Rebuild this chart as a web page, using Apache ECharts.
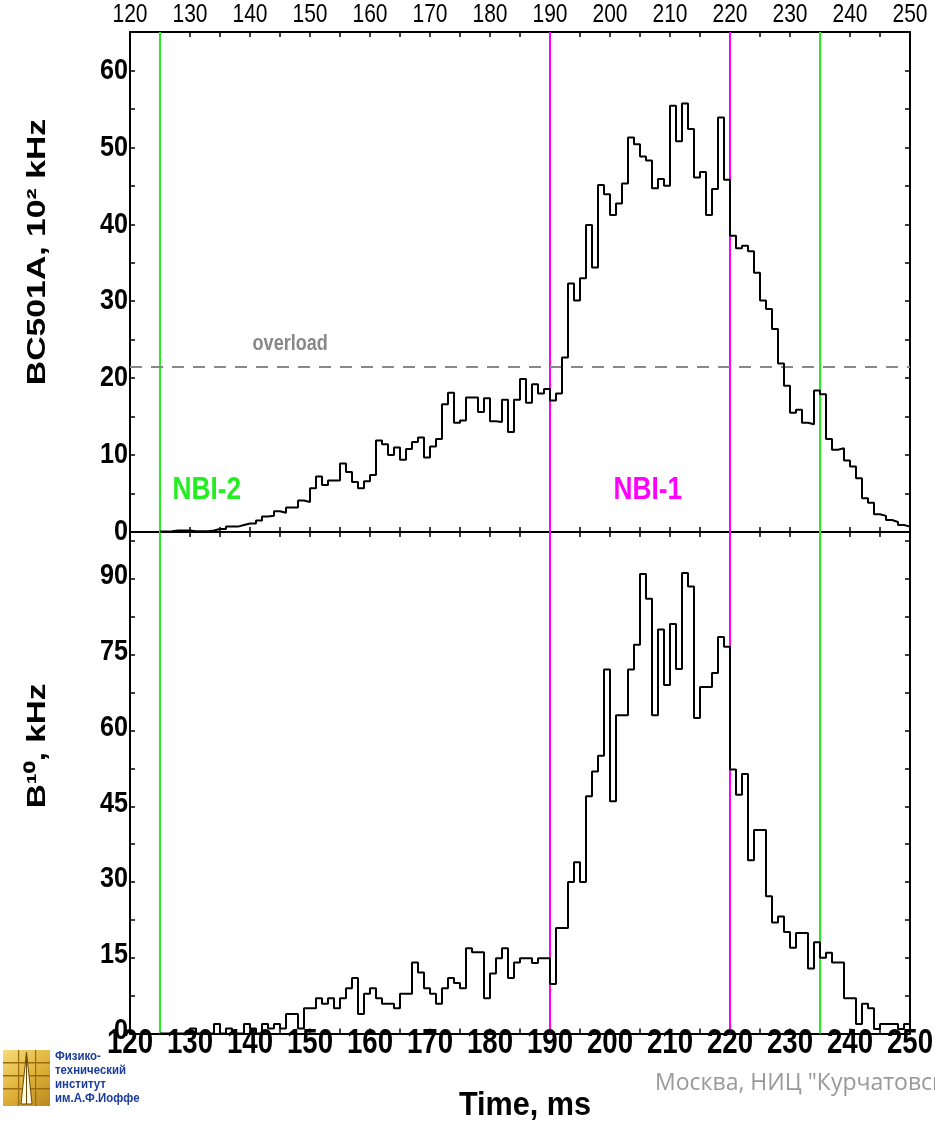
<!DOCTYPE html>
<html>
<head>
<meta charset="utf-8">
<title>BC501A / B10 count rates</title>
<script src="https://cdn.jsdelivr.net/npm/echarts@6/dist/echarts.min.js"></script>
<style>
  html, body { margin: 0; padding: 0; background: #fff; }
  #chart { width: 935px; height: 1123px; }
</style>
</head>
<body>
<div id="chart"></div>
<script>
// Histogram bins, 1 ms wide, starting at these times (ms)
const binStart = 125;
const binEnd = 250;

// BC501A neutron detector count rate, 10^2 kHz, bins 125..249 ms
const bc501a = [
  0.05, 0.1, 0.2, 0.2, 0.2, 0.1, 0.1, 0.1, 0.2, 0.4,
  0.4, 0.7, 0.7, 0.9, 1.1, 1.1, 1.5, 2.0, 2.1, 2.7,
  2.5, 3.2, 3.2, 4.1, 3.9, 5.7, 7.2, 6.1, 6.7, 6.7,
  8.9, 7.8, 6.5, 5.7, 6.6, 7.4, 11.9, 11.4, 10.0, 11.0,
  9.4, 10.8, 11.7, 12.3, 9.7, 11.1, 12.1, 16.6, 18.1, 14.2,
  14.5, 17.5, 17.5, 15.6, 17.4, 14.4, 14.3, 17.2, 13.0, 17.2,
  19.9, 16.8, 19.2, 18.0, 18.6, 17.1, 18.0, 22.7, 32.3, 30.1,
  33.0, 39.9, 34.4, 45.1, 43.9, 41.2, 42.7, 45.3, 51.3, 50.4,
  48.8, 48.3, 44.7, 45.9, 45.0, 55.4, 50.8, 55.7, 52.4, 46.1,
  46.8, 41.2, 44.6, 53.9, 45.8, 38.5, 36.9, 37.2, 36.5, 33.7,
  30.1, 29.0, 26.4, 21.9, 19.0, 15.5, 15.9, 14.2, 14.0, 18.4,
  17.9, 12.1, 10.7, 10.9, 9.3, 8.5, 7.0, 4.4, 3.8, 2.3,
  2.1, 1.55, 1.3, 0.9, 0.7
];

// B10 counter rate, kHz, bins 125..249 ms
const b10 = [
  0, 0, 0, 0, 0, 1.0, 0, 0, 0, 1.9,
  0, 1.0, 0, 0, 1.9, 1.0, 0, 1.9, 1.0, 1.9,
  1.0, 3.9, 3.9, 1.0, 5.0, 5.0, 7.0, 5.9, 7.0, 5.0,
  7.0, 9.0, 11.0, 3.9, 7.9, 9.0, 7.0, 5.9, 5.9, 5.0,
  7.9, 7.9, 14.1, 12.1, 9.0, 7.9, 5.9, 9.0, 11.0, 10.0,
  9.0, 16.9, 16.1, 16.1, 7.0, 11.9, 14.9, 16.9, 11.0, 14.1,
  14.9, 14.9, 14.0, 14.9, 14.9, 9.8, 20.9, 20.9, 30.0, 33.9,
  30.0, 47.0, 51.9, 55.0, 72.1, 46.0, 63.0, 63.0, 72.1, 77.0,
  91.0, 86.1, 63.0, 80.0, 69.0, 81.1, 72.2, 91.2, 88.5, 62.5,
  68.6, 68.6, 71.4, 78.5, 76.6, 52.3, 47.3, 51.4, 34.3, 40.3,
  40.3, 27.2, 22.0, 23.2, 20.1, 17.0, 19.9, 19.9, 12.9, 18.1,
  15.0, 16.0, 14.1, 14.1, 7.0, 7.0, 1.9, 5.9, 5.0, 0.9,
  1.9, 1.9, 1.9, 0.9, 1.9
];

// Tick labels
const timeTicks = [120, 130, 140, 150, 160, 170, 180, 190, 200, 210, 220, 230, 240, 250];
const topTicks = [0, 10, 20, 30, 40, 50, 60];
const bottomTicks = [0, 15, 30, 45, 60, 75, 90];

// Beam timing markers (ms)
const nbi2Times = [125, 235];
const nbi1Times = [190, 220];
const overloadLevel = 21.5;

// Axis ranges
const xMin = 120, xMax = 250;
const topMax = 65, bottomMax = 99.3;

const FONT = "'Liberation Sans', Arial, sans-serif";
const GREEN = '#22ee22';
const MAGENTA = '#ff00ff';

// step data: each bin drawn from its start; closing point at the end of the last bin
function toSteps(values) {
  const pts = values.map((v, i) => [binStart + i, v]);
  pts.push([binEnd, values[values.length - 1]]);
  return pts;
}

function vLines() {
  return nbi2Times.map(t => ({ xAxis: t, lineStyle: { color: GREEN, width: 2, type: 'solid' } }))
    .concat(nbi1Times.map(t => ({ xAxis: t, lineStyle: { color: MAGENTA, width: 2, type: 'solid' } })));
}

const axisLineStyle = { lineStyle: { color: '#000', width: 2 } };
const tickStyle = { inside: true, length: 5, lineStyle: { color: '#000', width: 1.5 } };

function xAxisCfg(gridIndex, position) {
  return {
    type: 'value', gridIndex, position, min: xMin, max: xMax, interval: 5,
    axisLine: Object.assign({ onZero: false }, axisLineStyle),
    axisTick: tickStyle,
    splitLine: { show: false },
    axisLabel: { show: false }
  };
}

function yAxisCfg(gridIndex, position, max, step) {
  return {
    type: 'value', gridIndex, position, min: 0, max, interval: step,
    axisLine: Object.assign({ onZero: false }, axisLineStyle),
    axisTick: tickStyle,
    splitLine: { show: false },
    axisLabel: { show: false }
  };
}

const chart = echarts.init(document.getElementById('chart'), null, { renderer: 'canvas' });

chart.setOption({
  animation: false,
  backgroundColor: '#fff',
  grid: [
    { left: 130, right: 25, top: 32, height: 500, containLabel: false, outerBoundsMode: 'none' },
    { left: 130, right: 25, top: 532, height: 501.6, containLabel: false, outerBoundsMode: 'none' }
  ],
  xAxis: [
    xAxisCfg(0, 'top'),
    xAxisCfg(0, 'bottom'),
    xAxisCfg(1, 'bottom'),
    xAxisCfg(1, 'top')
  ],
  yAxis: [
    yAxisCfg(0, 'left', topMax, 5),
    yAxisCfg(0, 'right', topMax, 5),
    yAxisCfg(1, 'left', bottomMax, 7.5),
    yAxisCfg(1, 'right', bottomMax, 7.5)
  ],
  series: [
    {
      name: 'BC501A', type: 'line', xAxisIndex: 0, yAxisIndex: 0,
      step: 'end', showSymbol: false, symbol: 'none',
      lineStyle: { color: '#000', width: 2 },
      data: toSteps(bc501a),
      z: 5,
      markLine: {
        silent: true, symbol: 'none', label: { show: false },
        data: vLines().concat([{
          yAxis: overloadLevel,
          lineStyle: { color: '#888', width: 2, type: [12, 9] }
        }])
      }
    },
    {
      name: 'B10', type: 'line', xAxisIndex: 2, yAxisIndex: 2,
      step: 'end', showSymbol: false, symbol: 'none',
      lineStyle: { color: '#000', width: 2 },
      data: toSteps(b10),
      z: 5,
      markLine: {
        silent: true, symbol: 'none', label: { show: false },
        data: vLines()
      }
    }
  ]
});

// condensed text helper (the lettering of this plot is narrow)
function txt(x, y, text, o) {
  o = o || {};
  return {
    type: 'text', x, y, scaleX: o.sx || 0.82, rotation: o.rot || 0, z: 100,
    style: {
      text, fontFamily: o.family || FONT, fontWeight: o.weight || 'bold', fontSize: o.size || 30,
      fill: o.color || '#000', align: o.align || 'center', verticalAlign: o.va || 'middle',
      lineHeight: o.lh
    }
  };
}

const topFinder = { xAxisIndex: 0, yAxisIndex: 0 };
const botFinder = { xAxisIndex: 2, yAxisIndex: 2 };
const gfx = [];

// tick labels placed through the axes' scales
timeTicks.forEach(t => {
  const pTop = chart.convertToPixel(topFinder, [t, topMax]);
  gfx.push(txt(pTop[0], pTop[1] - 17, String(t), { weight: 'normal', size: 25, sx: 0.84 }));
  const pBot = chart.convertToPixel(botFinder, [t, 0]);
  gfx.push(txt(pBot[0], pBot[1] + 10, String(t), { size: 35, sx: 0.79 }));
});
topTicks.forEach(v => {
  const p = chart.convertToPixel(topFinder, [xMin, v]);
  gfx.push(txt(p[0] - 2, p[1], String(v), { size: 30, sx: 0.84, align: 'right' }));
});
bottomTicks.forEach(v => {
  const p = chart.convertToPixel(botFinder, [xMin, v]);
  gfx.push(txt(p[0] - 2, p[1] - 3, String(v), { size: 30, sx: 0.84, align: 'right' }));
});

// annotations in data coordinates
const nbi2 = chart.convertToPixel(topFinder, [132.8, 5.4]);
gfx.push(txt(nbi2[0], nbi2[1], 'NBI-2', { size: 32, color: GREEN }));
const nbi1 = chart.convertToPixel(topFinder, [206.3, 5.4]);
gfx.push(txt(nbi1[0], nbi1[1], 'NBI-1', { size: 32, color: MAGENTA }));
const ov = chart.convertToPixel(topFinder, [146.7, 24.5]);
gfx.push(txt(ov[0], ov[1], 'overload', { size: 22, color: '#888' }));

// axis titles
gfx.push(txt(38, 252, 'BC501A, 10² kHz', { size: 25, sx: 1.35, rot: Math.PI / 2 }));
gfx.push(txt(38, 746, 'B¹⁰, kHz', { size: 25, sx: 1.33, rot: Math.PI / 2 }));
gfx.push(txt(525, 1106, 'Time, ms', { size: 34, sx: 0.9 }));

// institute emblem
gfx.push({
  type: 'group', x: 3, y: 1050, z: 100,
  children: [
    { type: 'rect', shape: { x: 0, y: 0, width: 47, height: 56 },
      style: { fill: new echarts.graphic.LinearGradient(0, 0, 1, 1, [
        { offset: 0, color: '#f7dc7a' }, { offset: 0.5, color: '#e0b43c' }, { offset: 1, color: '#b9871c' }
      ]) } },
    { type: 'rect', shape: { x: 0, y: 12, width: 47, height: 1.5 }, style: { fill: '#9a6c10' } },
    { type: 'rect', shape: { x: 0, y: 25, width: 47, height: 1.5 }, style: { fill: '#9a6c10' } },
    { type: 'rect', shape: { x: 0, y: 38, width: 47, height: 1.5 }, style: { fill: '#9a6c10' } },
    { type: 'rect', shape: { x: 15, y: 0, width: 1.2, height: 56 }, style: { fill: '#9a6c10' } },
    { type: 'rect', shape: { x: 32, y: 0, width: 1.2, height: 56 }, style: { fill: '#9a6c10' } },
    { type: 'polygon', shape: { points: [[23.5, 2], [29, 54], [18, 54]] },
      style: { fill: '#fffbe8', stroke: '#6b4a08', lineWidth: 1 } },
    { type: 'polyline', shape: { points: [[23.5, 2], [23.5, 54]] },
      style: { stroke: '#6b4a08', lineWidth: 1 } }
  ]
});
gfx.push(txt(55, 1049, 'Физико-\nтехнический\nинститут\nим.А.Ф.Иоффе',
  { size: 13, lh: 14, sx: 0.88, color: '#1a3c9a', align: 'left', va: 'top' }));
gfx.push(txt(655, 1083, 'Москва, НИЦ "Курчатовский институт"',
  { family: "'Open Sans', sans-serif", weight: 'normal', size: 23, sx: 1, color: '#999', align: 'left' }));

chart.setOption({ graphic: gfx });
</script>
</body>
</html>
